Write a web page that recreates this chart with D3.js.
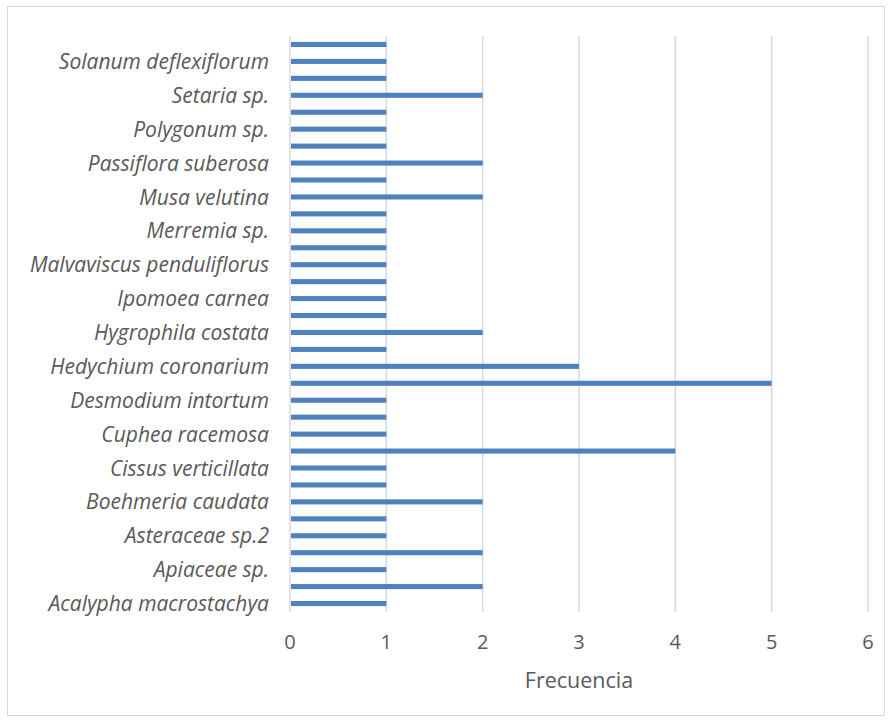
<!DOCTYPE html>
<html><head><meta charset="utf-8">
<script src="https://cdn.jsdelivr.net/npm/d3@7"></script>
<style>body{margin:0;background:#fff}</style>
</head><body><svg id="c" width="891" height="722"></svg>
<script>
// Categories bottom-to-top (alphabetical); only every other label is shown, like the original
const categories = [
 "Acalypha macrostachya","Ageratum conyzoides","Apiaceae sp.","Asteraceae sp.1","Asteraceae sp.2",
 "Bidens pilosa","Boehmeria caudata","Centrosema sp.","Cissus verticillata","Commelina diffusa",
 "Cuphea racemosa","Cyperus sp.","Desmodium intortum","Emilia sonchifolia","Hedychium coronarium",
 "Heliconia sp.","Hygrophila costata","Impatiens walleriana","Ipomoea carnea","Lantana camara",
 "Malvaviscus penduliflorus","Melampodium sp.","Merremia sp.","Mimosa pudica","Musa velutina",
 "Panicum sp.","Passiflora suberosa","Piper sp.","Polygonum sp.","Rubus sp.",
 "Setaria sp.","Sida rhombifolia","Solanum deflexiflorum","Verbena sp."
];
const values = [1,2,1,2,1, 1,2,1,1,4, 1,1,1,5,3, 1,2,1,1,1, 1,1,1,1,2, 1,2,1,1,1, 2,1,1,1];
const xTicks = [0,1,2,3,4,5,6];
const xTitle = "Frecuencia";

const svg = d3.select("#c");
svg.append("rect").attr("x",7.5).attr("y",6.5).attr("width",877).attr("height",709)
  .attr("fill","#fff").attr("stroke","#d9d9d9").attr("stroke-width",1);

const m = {left:290, right:868, top:36, bottom:612};
const x = d3.scaleLinear().domain([0,6]).range([m.left,m.right]);
const y = d3.scaleBand().domain(categories.slice().reverse()).range([m.top,m.bottom]).paddingInner(0.7).paddingOuter(0.35);

svg.append("g").selectAll("line").data(xTicks).join("line")
  .attr("x1",d=>x(d)).attr("x2",d=>x(d)).attr("y1",m.top).attr("y2",m.bottom)
  .attr("stroke","#d9d9d9").attr("stroke-width",1.5);

svg.append("g").selectAll("rect").data(categories).join("rect")
  .attr("x",x(0)+1).attr("y",d=>y(d)).attr("height",y.bandwidth())
  .attr("width",(d,i)=>x(values[i])-x(0)-1).attr("fill","#4f81bd");

const font = "'Open Sans', 'Noto Sans', sans-serif";
svg.append("g").selectAll("text").data(categories.filter((d,i)=>i%2===0)).join("text")
  .attr("x",269).attr("y",d=>y(d)+y.bandwidth()/2).attr("dy","0.36em")
  .attr("text-anchor","end").attr("font-family",font).attr("font-style","italic")
  .attr("font-size",21).attr("fill","#595959").text(d=>d);

svg.append("g").selectAll("text").data(xTicks).join("text")
  .attr("x",d=>x(d)).attr("y",649).attr("text-anchor","middle")
  .attr("font-family",font).attr("font-size",20).attr("fill","#595959").text(d=>d);

svg.append("text").attr("x",(m.left+m.right)/2).attr("y",688).attr("text-anchor","middle")
  .attr("font-family",font).attr("font-size",21.5).attr("fill","#595959").text(xTitle);
</script></body></html>
